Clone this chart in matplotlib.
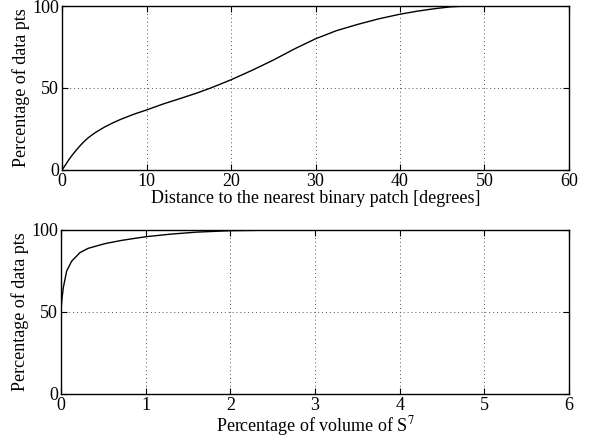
import matplotlib
matplotlib.use("Agg")
import matplotlib.pyplot as plt

plt.rcParams['font.family'] = ['Liberation Serif', 'DejaVu Serif']
plt.rcParams['mathtext.fontset'] = 'stix'
plt.rcParams['font.size'] = 12

# top panel: distance to nearest binary patch (degrees) vs cumulative %
dist_deg = [0, 0.4, 0.8, 1.2, 1.6, 2, 2.5, 3, 3.5, 4, 5, 6, 7, 8.5, 10, 12, 14, 16, 17.6, 20,
            22.5, 25, 27.5, 30, 32.5, 35, 37.5, 40, 42, 44, 46, 48, 52, 60]
dist_pct = [0, 3, 6.2, 9, 11.6, 14, 16.8, 19.2, 21.2, 23, 26.1, 28.7, 31, 34, 36.6, 40.3, 43.6,
            47, 50, 55, 60.8, 67, 73.8, 80, 85, 88.8, 92.2, 95, 96.8, 98.3, 99.5, 100, 100, 100]

# bottom panel: percentage of volume of S^7 vs cumulative %
vol_pct = [0, 0.008, 0.027, 0.067, 0.126, 0.224, 0.32, 0.52, 0.72, 1.0, 1.3, 1.6, 2.0, 2.5,
           3.0, 4.0, 5.0, 6.0]
vol_pts = [50, 56.5, 64.8, 75, 81, 86.2, 88.8, 91.7, 93.7, 95.9, 97.5, 98.7, 99.6, 99.9,
           100, 100, 100, 100]

fig = plt.figure(figsize=(5.92, 4.45), dpi=100)
ax1 = fig.add_axes([62 / 592, 1 - 170 / 445, 507 / 592, 164 / 445])
ax2 = fig.add_axes([61 / 592, 1 - 394 / 445, 508 / 592, 164 / 445])


def style(ax, xmax, xticks):
    ax.set_xlim(0, xmax)
    ax.set_ylim(0, 100)
    ax.set_xticks(xticks)
    ax.set_yticks([0, 50, 100])
    ax.grid(True, linestyle=(0, (1, 3)), color='#555555', linewidth=0.7)
    ax.tick_params(direction='in', top=True, right=True, length=4, width=0.8,
                   labelsize=13, pad=2)
    for s in ax.spines.values():
        s.set_linewidth(1.0)


ax1.plot(dist_deg, dist_pct, color='black', linewidth=1.0)
style(ax1, 60, [0, 10, 20, 30, 40, 50, 60])
ax1.set_xlabel('Distance to the nearest binary patch [degrees]', fontsize=13, labelpad=0)
ax1.set_ylabel('Percentage of data pts', fontsize=13, labelpad=2)

ax2.plot(vol_pct, vol_pts, color='black', linewidth=1.0)
style(ax2, 6, [0, 1, 2, 3, 4, 5, 6])
ax2.set_xlabel('Percentage of volume of S$^7$', fontsize=13, labelpad=0)
ax2.set_ylabel('Percentage of data pts', fontsize=13, labelpad=2)

fig.savefig('out.png', dpi=100)
